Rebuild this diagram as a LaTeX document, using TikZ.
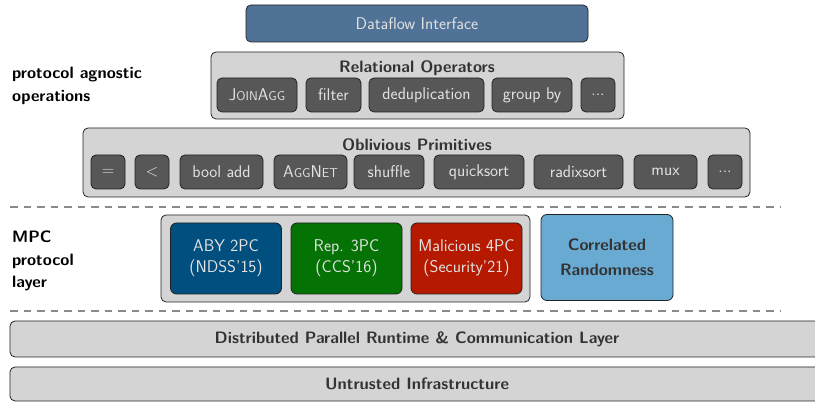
\documentclass[tikz,border=0pt]{standalone}
\usepackage{xcolor}
\definecolor{dfblue}{HTML}{4F7296}
\definecolor{abyblue}{HTML}{014F7F}
\definecolor{repgreen}{HTML}{047204}
\definecolor{malred}{HTML}{B51A00}
\definecolor{corrblue}{HTML}{69AAD3}
\definecolor{panelgray}{HTML}{D4D4D4}
\definecolor{chipgray}{HTML}{575757}
\definecolor{edgec}{HTML}{222222}
\definecolor{txtdark}{HTML}{333333}
\definecolor{txtlight}{HTML}{E2E2E2}
\definecolor{dashc}{HTML}{8A8A8A}
\newcommand{\mysc}[1]{{\fontsize{12.8}{14}\selectfont #1}}
\begin{document}
\begin{tikzpicture}[x=1pt,y=-1pt,
  every node/.style={font=\sffamily\fontsize{17}{19}\selectfont},
  panel/.style={draw=edgec, line width=0.8pt, fill=panelgray, rounded corners=5pt, inner sep=0pt},
  chip/.style={draw=edgec, line width=0.8pt, fill=chipgray, rounded corners=5pt, text=txtlight, minimum height=34pt, inner sep=0pt},
  proto/.style={draw=edgec, line width=0.8pt, rounded corners=6pt, text=txtlight, minimum height=71pt, minimum width=111pt, inner sep=0pt, align=center},
  ttl/.style={text=txtdark, font=\sffamily\bfseries\fontsize{16.5}{19}\selectfont, inner sep=0pt},
  sidelbl/.style={text=black, font=\sffamily\bfseries\fontsize{16.5}{22.5}\selectfont, align=left, anchor=west, inner sep=0pt},
  sep/.style={draw=dashc, line width=1.2pt, dash pattern=on 7.5pt off 6pt}
]
\useasboundingbox (0,0) rectangle (815,403);

% Dataflow interface
\node[draw=edgec, line width=0.8pt, fill=dfblue, rounded corners=5pt, text=txtlight, minimum width=342pt, minimum height=37pt, inner sep=0pt] (df) at (417,23.5) {Dataflow Interface};

% side labels
\node[sidelbl] (lblops) at (12,86) {protocol agnostic\\operations};
\node[sidelbl] (lblmpc) at (12,261) {MPC\\protocol\\layer};

% Relational operators
\node[panel, minimum width=413pt, minimum height=67pt] (rel) at (417.5,85.5) {};
\node[ttl] (relt) at (417,68) {Relational Operators};
\node[chip, minimum width=80pt] (joinagg) at (257,95) {J\mysc{OIN}A\mysc{GG}};
\node[chip, minimum width=55pt] (filter) at (333.5,95) {filter};
\node[chip, minimum width=115pt] (dedup) at (426.5,95) {deduplication};
\node[chip, minimum width=80pt] (groupby) at (532,95) {group by};
\node[chip, minimum width=34pt] (reldots) at (598,95) {...};

% Oblivious primitives
\node[panel, minimum width=667pt, minimum height=69pt] (obl) at (416.5,162.5) {};
\node[ttl] (oblt) at (417,145) {Oblivious Primitives};
\node[chip, minimum width=34pt] (eq) at (108,172) {=};
\node[chip, minimum width=34pt] (lt) at (152,172) {<};
\node[chip, minimum width=83pt] (booladd) at (221.5,172) {bool add};
\node[chip, minimum width=73pt] (aggnet) at (310.5,172) {A\mysc{GG}N\mysc{ET}};
\node[chip, minimum width=70pt] (shuffle) at (389,172) {shuffle};
\node[chip, minimum width=90pt] (qsort) at (479,172) {quicksort};
\node[chip, minimum width=89pt] (rsort) at (578.5,172) {radixsort};
\node[chip, minimum width=63pt] (mux) at (665.5,172) {mux};
\node[chip, minimum width=34pt] (obldots) at (725,172) {...};

% separators
\coordinate (s1a) at (10,207); \coordinate (s1b) at (781,207);
\coordinate (s2a) at (10,311); \coordinate (s2b) at (781,311);
\draw[sep] (s1a) -- (s1b);
\draw[sep] (s2a) -- (s2b);

% MPC protocols
\node[panel, minimum width=369pt, minimum height=87pt] (mpc) at (345.5,258.5) {};
\node[proto, fill=abyblue, font=\sffamily\fontsize{17}{21}\selectfont] (aby) at (226,258.5) {ABY 2PC\\(NDSS'15)};
\node[proto, fill=repgreen, font=\sffamily\fontsize{17}{21}\selectfont] (rep) at (346.5,258.5) {Rep. 3PC\\(CCS'16)};
\node[proto, fill=malred, font=\sffamily\fontsize{17}{21}\selectfont] (mal) at (466.5,258.5) {Malicious 4PC\\(Security'21)};
\node[draw=edgec, line width=0.8pt, fill=corrblue, rounded corners=6pt, text=txtdark, minimum width=132pt, minimum height=86pt, inner sep=0pt, align=center, font=\sffamily\bfseries\fontsize{16.5}{24.5}\selectfont] (corr) at (607,257.5) {Correlated\\Randomness};

% bottom layers
\node[panel, minimum width=814pt, minimum height=36pt, text=txtdark, font=\sffamily\bfseries\fontsize{16.5}{19}\selectfont] (runtime) at (417,339) {Distributed Parallel Runtime \& Communication Layer};
\node[panel, minimum width=814pt, minimum height=34pt, text=txtdark, font=\sffamily\bfseries\fontsize{16.5}{19}\selectfont] (infra) at (417,384) {Untrusted Infrastructure};
\end{tikzpicture}
\end{document}
